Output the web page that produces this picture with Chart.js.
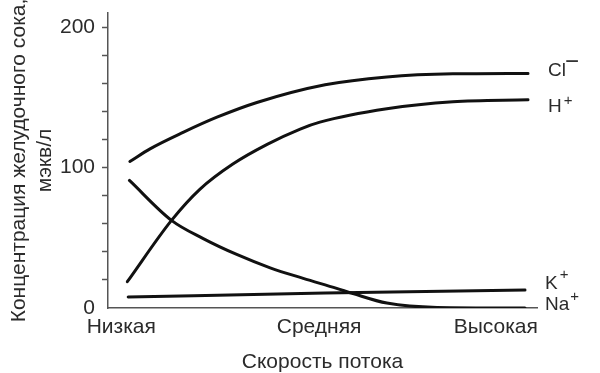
<!DOCTYPE html>
<html lang="ru">
<head>
<meta charset="utf-8">
<title>Концентрация желудочного сока</title>
<script src="https://cdn.jsdelivr.net/npm/chart.js@4/dist/chart.umd.min.js"></script>
<style>
    html, body { margin: 0; padding: 0; background: #fff; }
    #wrap { width: 600px; height: 373px; position: relative; }
</style>
</head>
<body>
<div id="wrap"><canvas id="chart-ions"></canvas></div>
<script>
// x: flow rate on a 0..100 scale, y: mEq/l
const xCategories = ['Низкая', 'Средняя', 'Высокая'];
const xCategoryAt = [3.1, 49.2, 90.4];
const yTickValues = [0, 20, 40, 60, 80, 100, 120, 140, 160, 180, 200];

const ionNames = ['Cl', 'H', 'K', 'Na'];
const ionCharges = ['−', '+', '+', '+'];

const clX = [5.1, 9.8, 17.5, 25.4, 34.7, 50.6, 65.0, 80.4, 97.9];
const clY = [104.3, 113.3, 125.0, 135.8, 146.3, 158.9, 164.5, 166.7, 167.0];

const hX = [4.5, 14.8, 21.4, 29.1, 37.1, 44.8, 49.4, 65.0, 80.4, 97.9];
const hY = [18.7, 62.4, 84.5, 102.5, 116.5, 127.4, 132.3, 141.8, 146.8, 148.2];

const kX = [4.7, 50.6, 97.2];
const kY = [7.8, 10.6, 12.8];

const naX = [5.0, 14.8, 22.2, 30.0, 37.8, 45.5, 53.3, 57.1, 65.0, 76.7, 97.2];
const naY = [90.8, 62.4, 49.4, 38.1, 28.6, 21.1, 14.0, 10.3, 3.5, 0.4, 0.0];

const FONT = "'Liberation Sans', Arial, sans-serif";
const TEXT = '#2b2b2b';
const AXIS = '#555';

function toPoints(xs, ys) {
    return xs.map((x, i) => ({ x: x, y: ys[i] }));
}

function makeDataset(label, xs, ys) {
    return {
        label: label,
        data: toPoints(xs, ys),
        borderColor: '#111',
        borderWidth: 3,
        borderCapStyle: 'round',
        pointRadius: 0,
        fill: false,
        cubicInterpolationMode: 'monotone',
    };
}

// draws the ion name with its charge as a superscript at the end of each line
const ionLabels = {
    id: 'ionLabels',
    afterDatasetsDraw(chart, args, opts) {
        const ctx = chart.ctx;
        chart.data.datasets.forEach((ds, i) => {
            const meta = chart.getDatasetMeta(i);
            const last = meta.data[meta.data.length - 1];
            const o = opts.offsets[i];
            const x = last.x + opts.gap;
            const y = last.y + o.dy;
            ctx.save();
            ctx.fillStyle = TEXT;
            ctx.textBaseline = 'middle';
            ctx.textAlign = 'left';
            ctx.font = `19px ${FONT}`;
            ctx.fillText(ds.label, x, y);
            const w = ctx.measureText(ds.label).width;
            ctx.font = o.supFont;
            ctx.fillText(ionCharges[i], x + w + o.dx, y + o.sy);
            ctx.restore();
        });
    }
};

function createChart(idChart) {
    const ctx = document.getElementById(idChart).getContext('2d');

    return new Chart(ctx, {
        type: 'line',
        data: {
            datasets: [
                makeDataset(ionNames[0], clX, clY),
                makeDataset(ionNames[1], hX, hY),
                makeDataset(ionNames[2], kX, kY),
                makeDataset(ionNames[3], naX, naY),
            ]
        },
        options: {
            responsive: true,
            maintainAspectRatio: false,
            animation: false,
            layout: { padding: { left: 0, right: 63, top: 13, bottom: 0 } },
            plugins: {
                legend: { display: false },
                tooltip: { enabled: false },
                ionLabels: {
                    gap: 20,
                    offsets: [
                        { dy: -2.5, dx: -1, sy: -9, supFont: `24px ${FONT}` },
                        { dy: 6.5, dx: 2, sy: -5.5, supFont: `15px ${FONT}` },
                        { dy: -6.5, dx: 2, sy: -8.5, supFont: `15px ${FONT}` },
                        { dy: -3.5, dx: 1, sy: -7.5, supFont: `15px ${FONT}` },
                    ]
                }
            },
            scales: {
                x: {
                    type: 'linear',
                    min: 0,
                    max: 100,
                    afterBuildTicks: (axis) => {
                        axis.ticks = xCategoryAt.map(v => ({ value: v }));
                    },
                    afterFit: (axis) => {
                        axis.height = 65;
                        axis.paddingLeft = 0;
                        axis.paddingRight = 0;
                    },
                    ticks: {
                        padding: -1,
                        color: TEXT,
                        font: { family: FONT, size: 21 },
                        maxRotation: 0,
                        callback: (value, index) => xCategories[index],
                    },
                    grid: { display: false },
                    border: { display: true, color: AXIS, width: 1.5 },
                    title: {
                        display: true,
                        text: 'Скорость потока',
                        color: TEXT,
                        font: { family: FONT, size: 21 },
                        padding: { top: 0, bottom: -2 },
                    }
                },
                y: {
                    min: 0,
                    max: 210,
                    afterBuildTicks: (axis) => {
                        axis.ticks = yTickValues.map(v => ({ value: v }));
                    },
                    afterFit: (axis) => {
                        axis.width = 108;
                        axis.paddingTop = 0;
                        axis.paddingBottom = 0;
                    },
                    ticks: {
                        padding: 7,
                        color: TEXT,
                        font: { family: FONT, size: 21 },
                        callback: (value) => (value % 100 === 0 ? String(value) : ''),
                    },
                    grid: {
                        drawOnChartArea: false,
                        drawTicks: true,
                        tickLength: 6,
                        tickWidth: 1.5,
                        tickColor: (c) => (c.tick && c.tick.value === 0 ? 'rgba(0,0,0,0)' : AXIS),
                    },
                    border: { display: true, color: AXIS, width: 1.5 },
                    title: {
                        display: true,
                        text: ['Концентрация желудочного сока,', 'мэкв/л'],
                        color: TEXT,
                        font: { family: FONT, size: 21 },
                        padding: { top: 7, bottom: 0 },
                    }
                }
            }
        },
        plugins: [ionLabels]
    });
}

createChart('chart-ions');
</script>
</body>
</html>
